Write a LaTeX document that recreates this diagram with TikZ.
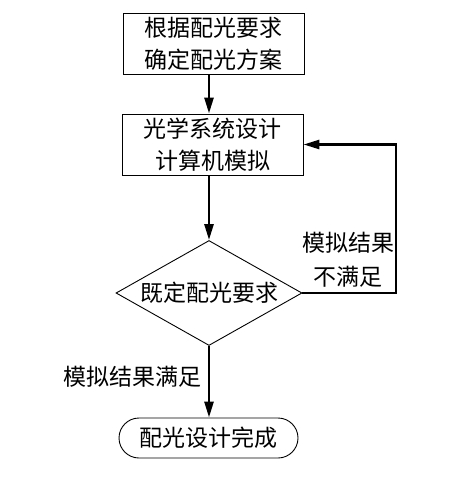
\documentclass[tikz,border=0pt]{standalone}
\usepackage{fontspec}
\newfontfamily\cjk{Noto Sans CJK SC}
\usetikzlibrary{shapes.geometric,arrows.meta}
\begin{document}
\begin{tikzpicture}[x=1pt,y=-1pt,
  font=\cjk\fontsize{23}{32}\selectfont,
  box/.style={draw, line width=0.9pt, inner sep=0pt, align=center},
  dec/.style={draw, line width=0.9pt, shape=diamond, shape aspect=1.77, inner sep=0pt, minimum width=186pt, minimum height=105pt},
  term/.style={draw, line width=0.9pt, rounded corners=20pt, inner sep=0pt, minimum width=179pt, minimum height=40pt},
  arr/.style={line width=2.6pt, -{Triangle[length=16pt,width=9pt]}},
  lab/.style={align=center, inner sep=0pt}]
\useasboundingbox (0,0) rectangle (471,482);
\node[box, minimum width=181pt, minimum height=61pt] (b1) at (213.5,43.5) {根据配光要求\\确定配光方案};
\node[box, minimum width=181pt, minimum height=61pt] (b2) at (212.5,144.5) {光学系统设计\\计算机模拟};
\node[dec] (d) at (209,293) {既定配光要求};
\node[term] (t) at (208.5,438) {配光设计完成};
\node[lab, font=\cjk\fontsize{23}{34}\selectfont] (l1) at (348,260) {模拟结果\\不满足};
\node[lab] (l2) at (132,377) {模拟结果满足};
\coordinate (c) at (396,293);
\draw[arr] (b1.south -| d.north) -- (b2.north -| d.north);
\draw[arr] (b2.south -| d.north) -- (d.north);
\draw[arr] (d.south) -- (t.north -| d.south);
\draw[arr] (d.east) -- (c) |- (b2.east);
\end{tikzpicture}
\end{document}
